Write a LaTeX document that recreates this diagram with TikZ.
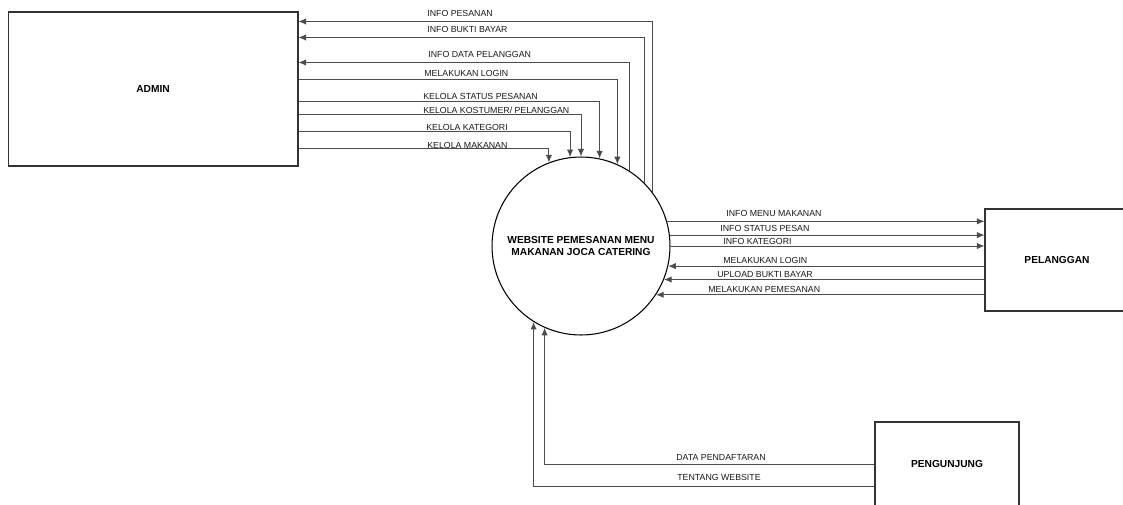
\documentclass[tikz,border=0pt]{standalone}
\usepackage{fontspec}
\setmainfont{Liberation Sans}
\usetikzlibrary{calc,arrows.meta}

\begin{document}
\begin{tikzpicture}[x=0.02cm,y=-0.02cm,
    entity/.style={draw=black!80,line width=0.6pt,font=\fontsize{5.8}{7}\selectfont\bfseries,inner sep=0},
    proc/.style={draw=black,circle,line width=0.6pt,minimum size=3.56cm,inner sep=0,align=center,font=\fontsize{5.8}{7}\selectfont\bfseries},
    flow/.style={draw=black!70,line width=0.55pt,-{Latex[length=4.3pt,width=3.6pt]}},
    lbl/.style={anchor=west,inner sep=0,text=black!90,font=\fontsize{5}{6}\selectfont}]
    \useasboundingbox (0,0) rectangle (1123,504);

    \node[entity,minimum width=5.8cm,minimum height=3.08cm] (admin) at (153,89) {ADMIN};
    \node[proc] (web) at (581,246) {WEBSITE PEMESANAN MENU\\MAKANAN JOCA CATERING};
    \node[entity,minimum width=2.88cm,minimum height=2.04cm] (pel) at (1057,260) {PELANGGAN};
    \node[entity,minimum width=2.88cm,minimum height=1.68cm] (pen) at (947,464) {PENGUNJUNG};

    % admin
    \draw[flow] (web.37.1) |- ($(admin.north east)+(0,10)$);
    \draw[flow] (web.45) |- ($(admin.north east)+(0,26)$);
    \draw[flow] (web.57.4) |- ($(admin.north east)+(0,51)$);
    \draw[flow] ($(admin.north east)+(0,68)$) -| (web.66.1);
    \draw[flow] ($(admin.north east)+(0,90)$) -| (web.78.3);
    \draw[flow] ($(admin.north east)+(0,103)$) -| (web.90);
    \draw[flow] ($(admin.north east)+(0,120)$) -| (web.97.7);
    \draw[flow] ($(admin.north east)+(0,137)$) -| (web.111.1);
    \node[lbl] (a1) at (427,13) {INFO PESANAN};
    \node[lbl] (a2) at (427,29) {INFO BUKTI BAYAR};
    \node[lbl] (a3) at (428,54) {INFO DATA PELANGGAN};
    \node[lbl] (a4) at (424,73) {MELAKUKAN LOGIN};
    \node[lbl] (a5) at (423,96) {KELOLA STATUS PESANAN};
    \node[lbl] (a6) at (423,110) {KELOLA KOSTUMER/ PELANGGAN};
    \node[lbl] (a7) at (426,127) {KELOLA KATEGORI};
    \node[lbl] (a8) at (427,145) {KELOLA MAKANAN};

    % pelanggan
    \draw[flow] (web.16.3) -- (web.16.3 -| pel.west);
    \draw[flow] (web.7.7) -- (web.7.7 -| pel.west);
    \draw[flow] (web.-0.6) -- (web.-0.6 -| pel.west);
    \draw[flow] (web.-13 -| pel.west) -- (web.-13);
    \draw[flow] (web.-22.5 -| pel.west) -- (web.-22.5);
    \draw[flow] (web.-33.4 -| pel.west) -- (web.-33.4);
    \node[lbl] (p1) at (726,213) {INFO MENU MAKANAN};
    \node[lbl] (p2) at (720,228) {INFO STATUS PESAN};
    \node[lbl] (p3) at (723,241) {INFO KATEGORI};
    \node[lbl] (p4) at (723,260) {MELAKUKAN LOGIN};
    \node[lbl] (p5) at (717,274) {UPLOAD BUKTI BAYAR};
    \node[lbl] (p6) at (708,289) {MELAKUKAN PEMESANAN};

    % pengunjung
    \draw[flow] (pen.west) -| (web.-114.6);
    \draw[flow] ($(pen.west)+(0,22)$) -| (web.-122.6);
    \node[lbl] (g1) at (676,457) {DATA PENDAFTARAN};
    \node[lbl] (g2) at (677,477) {TENTANG WEBSITE};
\end{tikzpicture}
\end{document}
